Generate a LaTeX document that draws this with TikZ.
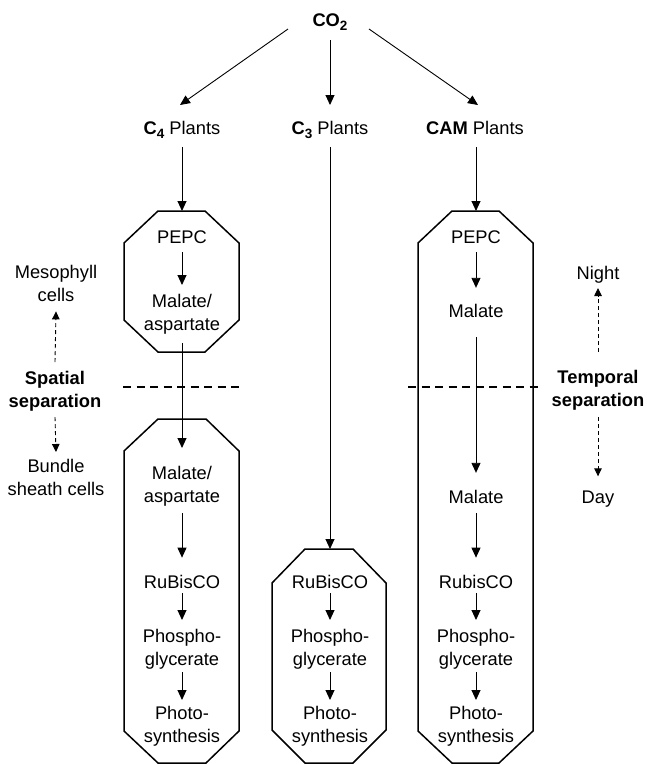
\documentclass[tikz,border=0pt]{standalone}
\usepackage{fontspec}
\setmainfont{Liberation Sans}
\usetikzlibrary{arrows.meta}
\begin{document}
\begin{tikzpicture}[x=1pt,y=-1pt,
  txt/.style={inner sep=0pt, outer sep=0pt, align=center, font=\fontsize{18.3}{22.5}\selectfont},
  one/.style={txt, anchor=base},
  multi/.style={txt, anchor=north},
  arr/.style={-{Triangle[length=10pt,width=9pt]}, line width=0.9pt},
  darr/.style={-{Triangle[length=8pt,width=7.5pt]}, line width=0.9pt, dash pattern=on 4pt off 3pt},
  boxline/.style={line width=1.5pt, line join=miter},
  sepline/.style={line width=1.3pt, dash pattern=on 8pt off 5.5pt}]
\useasboundingbox (0,0) rectangle (647,764);
\newcommand{\subs}[1]{\raisebox{-4pt}{\fontsize{13.5}{13.5}\selectfont #1}}

% octagon frames
\draw[boxline] (158,211) -- (205,211) -- (239,243) -- (239,320) -- (205,352) -- (158,352) -- (124,320) -- (124,243) -- cycle;
\draw[boxline] (158,419) -- (206,419) -- (239,451) -- (239,731) -- (206,763) -- (158,763) -- (124,731) -- (124,451) -- cycle;
\draw[boxline] (305,549) -- (353,549) -- (386,583) -- (386,730) -- (353,763) -- (305,763) -- (272,730) -- (272,583) -- cycle;
\draw[boxline] (452,211) -- (499,211) -- (533,243) -- (533,731) -- (499,763) -- (452,763) -- (418,731) -- (418,243) -- cycle;
\coordinate (top4) at (182,211);
\coordinate (top3) at (330,549);
\coordinate (topC) at (476,211);

% separators
\draw[sepline] (123,387) -- (243,387);
\draw[sepline] (408,387) -- (542,387);

% top labels
\node[one, font=\fontsize{18.3}{22.5}\selectfont\bfseries] (co2) at (330,26.5) {CO\subs{2}};
\node[one] (c4p) at (182,134.5) {\textbf{C\subs{4}} Plants};
\node[one] (c3p) at (330,134.5) {\textbf{C\subs{3}} Plants};
\node[one] (camp) at (475,134.5) {\textbf{CAM} Plants};

% side labels
\node[multi] (meso) at (56,265.4) {Mesophyll\\cells};
\node[multi, font=\fontsize{18.3}{22.5}\selectfont\bfseries] (spatial) at (55,371.4) {Spatial\\separation};
\node[multi] (bundle) at (56,459.4) {Bundle\\sheath cells};
\node[one] (night) at (598,279.5) {Night};
\node[multi, font=\fontsize{18.3}{22.5}\selectfont\bfseries] (temporal) at (598,370.4) {Temporal\\separation};
\node[one] (day) at (598,503.5) {Day};

% C4 column
\node[one] (pepc4) at (182,243.5) {PEPC};
\node[multi] (mal4a) at (182,294.4) {Malate/\\aspartate};
\node[multi] (mal4b) at (182,466.4) {Malate/\\aspartate};
\node[one] (rub4) at (182,588.5) {RuBisCO};
\node[multi] (pho4) at (182,629.4) {Phospho-\\glycerate};
\node[multi] (syn4) at (182,706.4) {Photo-\\synthesis};

% C3 column
\node[one] (rub3) at (330,588.5) {RuBisCO};
\node[multi] (pho3) at (330,629.4) {Phospho-\\glycerate};
\node[multi] (syn3) at (330,706.4) {Photo-\\synthesis};

% CAM column
\node[one] (pepcC) at (476,243.5) {PEPC};
\node[one] (malC1) at (476,317.5) {Malate};
\node[one] (malC2) at (476,503.5) {Malate};
\node[one] (rubC) at (476,588.5) {RubisCO};
\node[multi] (phoC) at (476,629.4) {Phospho-\\glycerate};
\node[multi] (synC) at (476,706.4) {Photo-\\synthesis};

% CO2 arrows
\draw[arr] ([xshift=-42pt,yshift=-2.5pt]co2.base) -- ([xshift=-2pt,yshift=29.5pt]c4p.base);
\draw[arr] ([yshift=-13.5pt]co2.base) -- ([yshift=29.5pt]c3p.base);
\draw[arr] ([xshift=39pt,yshift=-2.5pt]co2.base) -- ([xshift=3pt,yshift=29.5pt]camp.base);

% plants arrows
\draw[arr] ([yshift=-12.5pt]c4p.base) -- (top4);
\draw[arr] ([yshift=-12.5pt]c3p.base) -- (top3);
\draw[arr] ([xshift=1pt,yshift=-12.5pt]camp.base) -- (topC);

% C4 arrows
\draw[arr] ([yshift=-8.5pt]pepc4.base) -- ([yshift=9.4pt]mal4a.north);
\draw[arr] ([yshift=-9.2pt]mal4a.south) -- ([yshift=18.4pt]mal4b.north);
\draw[arr] ([yshift=-7.2pt]mal4b.south) -- ([yshift=17.6pt]rub4.north);
\draw[arr] ([yshift=-4.5pt]rub4.base) -- ([yshift=9.4pt]pho4.north);
\draw[arr] ([yshift=-3.2pt]pho4.south) -- ([yshift=6.4pt]syn4.north);

% C3 arrows
\draw[arr] ([yshift=-4.5pt]rub3.base) -- ([yshift=9.4pt]pho3.north);
\draw[arr] ([yshift=-3.2pt]pho3.south) -- ([yshift=6.4pt]syn3.north);

% CAM arrows
\draw[arr] ([yshift=-8.5pt]pepcC.base) -- ([yshift=16.4pt]malC1.north);
\draw[arr] ([yshift=-19.5pt]malC1.base) -- ([yshift=17.4pt]malC2.north);
\draw[arr] ([yshift=-9.5pt]malC2.base) -- ([yshift=17.6pt]rubC.north);
\draw[arr] ([yshift=-4.5pt]rubC.base) -- ([yshift=9.4pt]phoC.north);
\draw[arr] ([yshift=-3.2pt]phoC.south) -- ([yshift=6.4pt]synC.north);

% dashed side arrows
\draw[darr] ([yshift=9.4pt]spatial.north) -- ([yshift=-10pt]meso.south);
\draw[darr] ([yshift=-6.2pt]spatial.south) -- ([yshift=7.4pt]bundle.north);
\draw[darr] ([yshift=18.4pt]temporal.north) -- ([yshift=-8.5pt]night.base);
\draw[darr] ([yshift=-7.2pt]temporal.south) -- ([yshift=14.6pt]day.north);
\end{tikzpicture}
\end{document}
